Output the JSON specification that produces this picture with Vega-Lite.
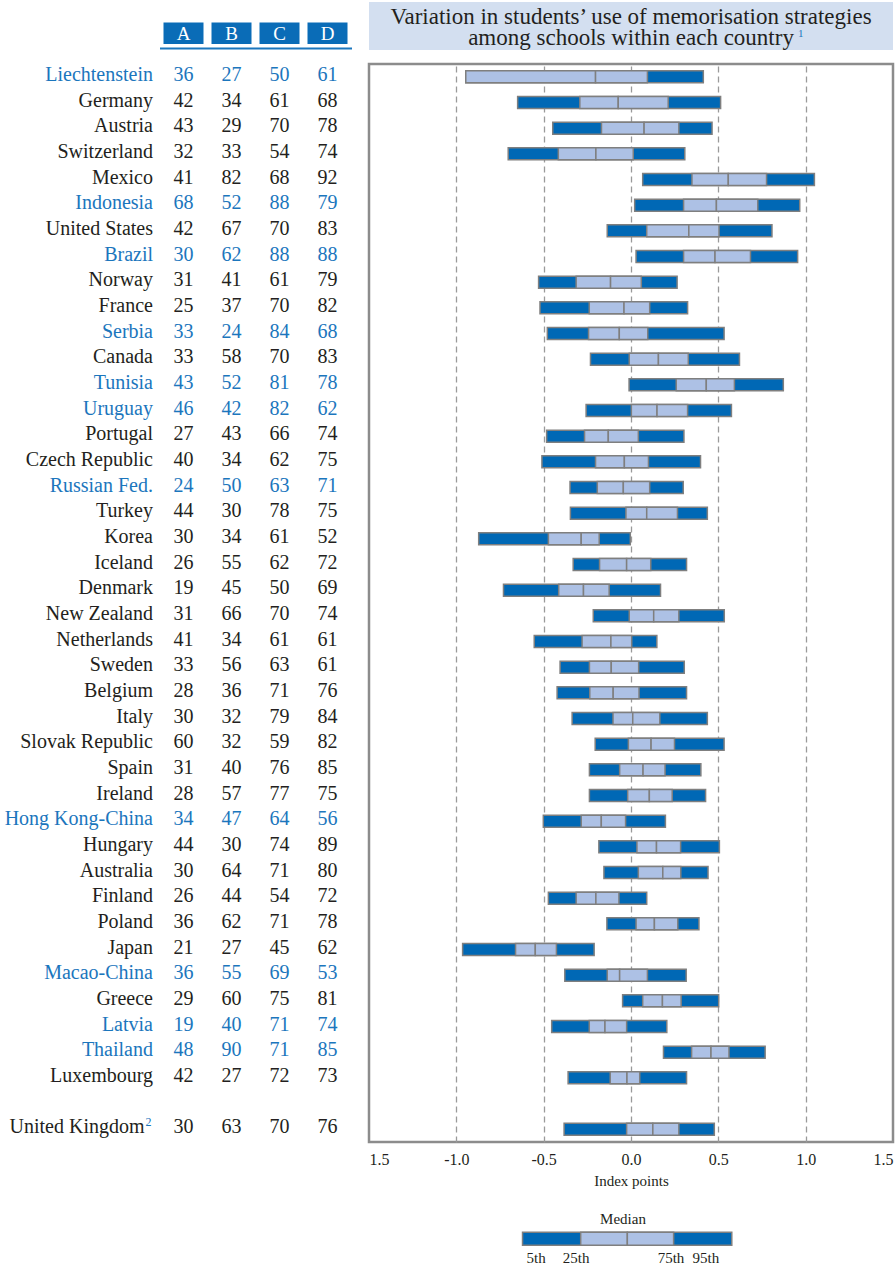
{
  "$schema": "https://vega.github.io/schema/vega-lite/v6.json",
  "padding": {"left": 0, "top": 2, "right": 0, "bottom": 0},
  "background": "white",
  "config": {
    "font": "Liberation Serif",
    "view": {"stroke": null},
    "text": {"font": "Liberation Serif"},
    "axis": {"labelFont": "Liberation Serif", "titleFont": "Liberation Serif"}
  },
  "datasets": {
    "rows": [
      {"country": "Liechtenstein", "partner": true, "A": 36, "B": 27, "C": 50, "D": 61, "p5": -0.946, "p25": -0.946, "p50": -0.203, "p75": 0.094, "p95": 0.414},
      {"country": "Germany", "partner": false, "A": 42, "B": 34, "C": 61, "D": 68, "p5": -0.649, "p25": -0.293, "p50": -0.073, "p75": 0.213, "p95": 0.513},
      {"country": "Austria", "partner": false, "A": 43, "B": 29, "C": 70, "D": 78, "p5": -0.448, "p25": -0.169, "p50": 0.075, "p75": 0.274, "p95": 0.464},
      {"country": "Switzerland", "partner": false, "A": 32, "B": 33, "C": 54, "D": 74, "p5": -0.703, "p25": -0.416, "p50": -0.201, "p75": 0.013, "p95": 0.308},
      {"country": "Mexico", "partner": false, "A": 41, "B": 82, "C": 68, "D": 92, "p5": 0.067, "p25": 0.349, "p50": 0.557, "p75": 0.776, "p95": 1.05},
      {"country": "Indonesia", "partner": true, "A": 68, "B": 52, "C": 88, "D": 79, "p5": 0.021, "p25": 0.301, "p50": 0.489, "p75": 0.726, "p95": 0.966},
      {"country": "United States", "partner": false, "A": 42, "B": 67, "C": 70, "D": 83, "p5": -0.136, "p25": 0.09, "p50": 0.331, "p75": 0.504, "p95": 0.807},
      {"country": "Brazil", "partner": true, "A": 30, "B": 62, "C": 88, "D": 88, "p5": 0.029, "p25": 0.301, "p50": 0.481, "p75": 0.684, "p95": 0.954},
      {"country": "Norway", "partner": false, "A": 31, "B": 41, "C": 61, "D": 79, "p5": -0.529, "p25": -0.314, "p50": -0.117, "p75": 0.059, "p95": 0.264},
      {"country": "France", "partner": false, "A": 25, "B": 37, "C": 70, "D": 82, "p5": -0.521, "p25": -0.239, "p50": -0.04, "p75": 0.107, "p95": 0.324},
      {"country": "Serbia", "partner": true, "A": 33, "B": 24, "C": 84, "D": 68, "p5": -0.479, "p25": -0.243, "p50": -0.067, "p75": 0.096, "p95": 0.533},
      {"country": "Canada", "partner": false, "A": 33, "B": 58, "C": 70, "D": 83, "p5": -0.232, "p25": -0.01, "p50": 0.157, "p75": 0.328, "p95": 0.621},
      {"country": "Tunisia", "partner": true, "A": 43, "B": 52, "C": 81, "D": 78, "p5": -0.011, "p25": 0.259, "p50": 0.431, "p75": 0.592, "p95": 0.872},
      {"country": "Uruguay", "partner": true, "A": 46, "B": 42, "C": 82, "D": 62, "p5": -0.257, "p25": 0.002, "p50": 0.149, "p75": 0.324, "p95": 0.575},
      {"country": "Portugal", "partner": false, "A": 27, "B": 43, "C": 66, "D": 74, "p5": -0.483, "p25": -0.266, "p50": -0.13, "p75": 0.042, "p95": 0.303},
      {"country": "Czech Republic", "partner": false, "A": 40, "B": 34, "C": 62, "D": 75, "p5": -0.51, "p25": -0.203, "p50": -0.038, "p75": 0.1, "p95": 0.398},
      {"country": "Russian Fed.", "partner": true, "A": 24, "B": 50, "C": 63, "D": 71, "p5": -0.349, "p25": -0.193, "p50": -0.044, "p75": 0.107, "p95": 0.299},
      {"country": "Turkey", "partner": false, "A": 44, "B": 30, "C": 78, "D": 75, "p5": -0.347, "p25": -0.029, "p50": 0.09, "p75": 0.266, "p95": 0.437},
      {"country": "Korea", "partner": false, "A": 30, "B": 34, "C": 61, "D": 52, "p5": -0.872, "p25": -0.473, "p50": -0.285, "p75": -0.182, "p95": -0.004},
      {"country": "Iceland", "partner": false, "A": 26, "B": 55, "C": 62, "D": 72, "p5": -0.331, "p25": -0.18, "p50": -0.025, "p75": 0.113, "p95": 0.318},
      {"country": "Denmark", "partner": false, "A": 19, "B": 45, "C": 50, "D": 69, "p5": -0.73, "p25": -0.414, "p50": -0.272, "p75": -0.125, "p95": 0.169},
      {"country": "New Zealand", "partner": false, "A": 31, "B": 66, "C": 70, "D": 74, "p5": -0.216, "p25": -0.01, "p50": 0.13, "p75": 0.274, "p95": 0.534},
      {"country": "Netherlands", "partner": false, "A": 41, "B": 34, "C": 61, "D": 61, "p5": -0.554, "p25": -0.28, "p50": -0.115, "p75": 0.004, "p95": 0.148},
      {"country": "Sweden", "partner": false, "A": 33, "B": 56, "C": 63, "D": 61, "p5": -0.406, "p25": -0.238, "p50": -0.113, "p75": 0.044, "p95": 0.305},
      {"country": "Belgium", "partner": false, "A": 28, "B": 36, "C": 71, "D": 76, "p5": -0.423, "p25": -0.236, "p50": -0.102, "p75": 0.046, "p95": 0.318},
      {"country": "Italy", "partner": false, "A": 30, "B": 32, "C": 79, "D": 84, "p5": -0.337, "p25": -0.103, "p50": 0.01, "p75": 0.165, "p95": 0.437},
      {"country": "Slovak Republic", "partner": false, "A": 60, "B": 32, "C": 59, "D": 82, "p5": -0.205, "p25": -0.015, "p50": 0.115, "p75": 0.249, "p95": 0.533},
      {"country": "Spain", "partner": false, "A": 31, "B": 40, "C": 76, "D": 85, "p5": -0.238, "p25": -0.065, "p50": 0.069, "p75": 0.195, "p95": 0.4},
      {"country": "Ireland", "partner": false, "A": 28, "B": 57, "C": 77, "D": 75, "p5": -0.238, "p25": -0.019, "p50": 0.105, "p75": 0.236, "p95": 0.427},
      {"country": "Hong Kong-China", "partner": true, "A": 34, "B": 47, "C": 64, "D": 56, "p5": -0.502, "p25": -0.285, "p50": -0.17, "p75": -0.031, "p95": 0.197},
      {"country": "Hungary", "partner": false, "A": 44, "B": 30, "C": 74, "D": 89, "p5": -0.184, "p25": 0.034, "p50": 0.146, "p75": 0.284, "p95": 0.506},
      {"country": "Australia", "partner": false, "A": 30, "B": 64, "C": 71, "D": 80, "p5": -0.155, "p25": 0.042, "p50": 0.182, "p75": 0.285, "p95": 0.441},
      {"country": "Finland", "partner": false, "A": 26, "B": 44, "C": 54, "D": 72, "p5": -0.473, "p25": -0.314, "p50": -0.201, "p75": -0.069, "p95": 0.09},
      {"country": "Poland", "partner": false, "A": 36, "B": 62, "C": 71, "D": 78, "p5": -0.138, "p25": 0.029, "p50": 0.134, "p75": 0.268, "p95": 0.389},
      {"country": "Japan", "partner": false, "A": 21, "B": 27, "C": 45, "D": 62, "p5": -0.964, "p25": -0.661, "p50": -0.548, "p75": -0.427, "p95": -0.211},
      {"country": "Macao-China", "partner": true, "A": 36, "B": 55, "C": 69, "D": 53, "p5": -0.379, "p25": -0.136, "p50": -0.065, "p75": 0.094, "p95": 0.316},
      {"country": "Greece", "partner": false, "A": 29, "B": 60, "C": 75, "D": 81, "p5": -0.048, "p25": 0.067, "p50": 0.18, "p75": 0.287, "p95": 0.502},
      {"country": "Latvia", "partner": true, "A": 19, "B": 40, "C": 71, "D": 74, "p5": -0.454, "p25": -0.239, "p50": -0.149, "p75": -0.025, "p95": 0.205},
      {"country": "Thailand", "partner": true, "A": 48, "B": 90, "C": 71, "D": 85, "p5": 0.186, "p25": 0.347, "p50": 0.458, "p75": 0.561, "p95": 0.768},
      {"country": "Luxembourg", "partner": false, "A": 42, "B": 27, "C": 72, "D": 73, "p5": -0.36, "p25": -0.119, "p50": -0.023, "p75": 0.05, "p95": 0.318},
      {"country": "United Kingdom", "partner": false, "A": 30, "B": 63, "C": 70, "D": 76, "p5": -0.383, "p25": -0.025, "p50": 0.125, "p75": 0.274, "p95": 0.477}
    ],
    "legend": [
      {"p5": -0.621, "p25": -0.288, "p50": -0.021, "p75": 0.244, "p95": 0.577}
    ],
    "legendLabels": [
      {"label": "Median", "pos": -0.046, "row": "median"},
      {"label": "5th", "pos": -0.543, "row": "pct"},
      {"label": "25th", "pos": -0.314, "row": "pct"},
      {"label": "75th", "pos": 0.229, "row": "pct"},
      {"label": "95th", "pos": 0.429, "row": "pct"}
    ]
  },
  "spacing": 10,
  "hconcat": [
    {
      "bounds": "flush",
      "spacing": 14,
      "vconcat": [
        {
          "width": 357,
          "height": 46,
          "data": {"values": [{"col": "A"}, {"col": "B"}, {"col": "C"}, {"col": "D"}]},
          "encoding": {
            "x": {"field": "col", "type": "nominal",
                  "scale": {"domain": ["A", "B", "C", "D"], "range": [159.5, 351.5], "paddingInner": 0, "paddingOuter": 0},
                  "axis": {"orient": "bottom", "labels": false, "ticks": false, "title": null, "grid": false, "domainColor": "#1b76bd", "domainWidth": 2}},
            "y": {"datum": "hdr", "type": "nominal",
                  "scale": {"domain": ["hdr"], "range": [20.5, 42], "paddingInner": 0, "paddingOuter": 0},
                  "axis": null}
          },
          "layer": [
            {"mark": {"type": "bar", "width": 40, "color": "#0a6cb7"}},
            {"mark": {"type": "text", "color": "white", "fontSize": 19, "baseline": "middle", "align": "center", "dy": 1},
             "encoding": {"text": {"field": "col"}}}
          ]
        },
        {
          "width": 357,
          "height": 1078,
          "data": {"name": "rows"},
          "encoding": {
            "y": {"field": "country", "type": "nominal",
                  "scale": {"domain": ["Liechtenstein", "Germany", "Austria", "Switzerland", "Mexico", "Indonesia", "United States", "Brazil", "Norway", "France", "Serbia", "Canada", "Tunisia", "Uruguay", "Portugal", "Czech Republic", "Russian Fed.", "Turkey", "Korea", "Iceland", "Denmark", "New Zealand", "Netherlands", "Sweden", "Belgium", "Italy", "Slovak Republic", "Spain", "Ireland", "Hong Kong-China", "Hungary", "Australia", "Finland", "Poland", "Japan", "Macao-China", "Greece", "Latvia", "Thailand", "Luxembourg", " ", "United Kingdom"], "paddingInner": 0, "paddingOuter": 0},
                  "axis": null}
          },
          "layer": [
            {
              "transform": [{"filter": "datum.country != 'United Kingdom'"}],
              "mark": {"type": "text", "fontSize": 20, "align": "right", "baseline": "middle", "dx": -30.5},
              "encoding": {
                "x": {"datum": "A", "type": "nominal", "scale": {"domain": ["A", "B", "C", "D"], "range": [159.5, 351.5], "paddingInner": 0, "paddingOuter": 0}, "axis": null},
                "text": {"field": "country"},
                "color": {"condition": {"test": "datum.partner", "value": "#1b76bd"}, "value": "#231f20"}
              }
            },
            {
              "transform": [{"filter": "datum.country == 'United Kingdom'"}],
              "mark": {"type": "text", "fontSize": 20, "align": "right", "baseline": "middle", "dx": -39, "color": "#231f20"},
              "encoding": {
                "x": {"datum": "A", "type": "nominal"},
                "text": {"field": "country"}
              }
            },
            {
              "transform": [{"filter": "datum.country == 'United Kingdom'"}],
              "mark": {"type": "text", "fontSize": 12, "align": "left", "baseline": "middle", "dx": -38, "dy": -5, "color": "#1b76bd"},
              "encoding": {
                "x": {"datum": "A", "type": "nominal"},
                "text": {"value": "2"}
              }
            },
            {
              "transform": [{"fold": ["A", "B", "C", "D"], "as": ["col", "val"]}],
              "mark": {"type": "text", "fontSize": 20, "align": "center", "baseline": "middle"},
              "encoding": {
                "x": {"field": "col", "type": "nominal"},
                "text": {"field": "val", "type": "quantitative"},
                "color": {"condition": {"test": "datum.partner", "value": "#1b76bd"}, "value": "#231f20"}
              }
            }
          ]
        }
      ]
    },
    {
      "spacing": 12,
      "vconcat": [
        {
          "width": 524,
          "height": 48,
          "view": {"fill": "#d3dff0", "stroke": null},
          "data": {"values": [{"line1": "Variation in students’ use of memorisation strategies", "line2": "among schools within each country", "note": "1"}]},
          "layer": [
            {"mark": {"type": "text", "fontSize": 23, "color": "#231f20", "align": "center", "baseline": "middle", "dy": -9},
             "encoding": {"text": {"field": "line1"}}},
            {"mark": {"type": "text", "fontSize": 23, "color": "#231f20", "align": "center", "baseline": "middle", "dy": 12},
             "encoding": {"text": {"field": "line2"}}},
            {"mark": {"type": "text", "fontSize": 11, "color": "#1b76bd", "align": "left", "baseline": "middle", "dx": 167, "dy": 8},
             "encoding": {"text": {"field": "note"}}}
          ]
        },
        {
          "width": 524,
          "height": 1078,
          "view": {"stroke": "#8c8c8c", "strokeWidth": 2.5},
          "data": {"name": "rows"},
          "encoding": {
            "y": {"field": "country", "type": "nominal",
                  "scale": {"domain": ["Liechtenstein", "Germany", "Austria", "Switzerland", "Mexico", "Indonesia", "United States", "Brazil", "Norway", "France", "Serbia", "Canada", "Tunisia", "Uruguay", "Portugal", "Czech Republic", "Russian Fed.", "Turkey", "Korea", "Iceland", "Denmark", "New Zealand", "Netherlands", "Sweden", "Belgium", "Italy", "Slovak Republic", "Spain", "Ireland", "Hong Kong-China", "Hungary", "Australia", "Finland", "Poland", "Japan", "Macao-China", "Greece", "Latvia", "Thailand", "Luxembourg", " ", "United Kingdom"], "paddingInner": 0, "paddingOuter": 0},
                  "axis": null}
          },
          "layer": [
            {
              "mark": {"type": "bar", "height": 12, "color": "#0068b5", "stroke": "#7f7f7f", "strokeWidth": 1.5},
              "encoding": {
                "x": {"field": "p5", "type": "quantitative",
                      "scale": {"domain": [-1.5, 1.5], "nice": false, "zero": false},
                      "axis": {
                        "values": [-1.5, -1, -0.5, 0, 0.5, 1, 1.5],
                        "labelExpr": "datum.value == -1.5 ? '1.5' : (datum.value < 0 ? '-' + format(-datum.value, '.1f') : format(datum.value, '.1f'))",
                        "ticks": false,
                        "domain": false,
                        "grid": true,
                        "gridDash": [6, 4],
                        "gridColor": "#9a9a9a",
                        "gridWidth": 1.3,
                        "gridOpacity": {"condition": {"test": "abs(datum.value) > 1.4", "value": 0}, "value": 1},
                        "labelFontSize": 16,
                        "labelColor": "#231f20",
                        "labelPadding": 9,
                        "labelFlush": true,
                        "labelOverlap": false,
                        "title": "Index points",
                        "titleFontSize": 15,
                        "titleFontWeight": "normal",
                        "titleColor": "#231f20",
                        "titlePadding": 6
                      }},
                "x2": {"field": "p95"}
              }
            },
            {
              "mark": {"type": "bar", "height": 12, "color": "#adc1e5", "stroke": "#7f7f7f", "strokeWidth": 1.5},
              "encoding": {
                "x": {"field": "p25", "type": "quantitative", "title": "Index points"},
                "x2": {"field": "p50"}
              }
            },
            {
              "mark": {"type": "bar", "height": 12, "color": "#adc1e5", "stroke": "#7f7f7f", "strokeWidth": 1.5},
              "encoding": {
                "x": {"field": "p50", "type": "quantitative", "title": "Index points"},
                "x2": {"field": "p75"}
              }
            }
          ]
        },
        {
          "width": 524,
          "height": 66,
          "layer": [
            {
              "data": {"name": "legend"},
              "mark": {"type": "bar", "height": 13, "color": "#0068b5", "stroke": "#7f7f7f", "strokeWidth": 1.5},
              "encoding": {
                "x": {"field": "p5", "type": "quantitative", "scale": {"domain": [-1.5, 1.5], "nice": false, "zero": false}, "axis": null},
                "x2": {"field": "p95"},
                "y": {"datum": "bar", "type": "nominal", "scale": {"domain": ["median", "bar", "pct"], "paddingInner": 0, "paddingOuter": 0.192, "align": 1}, "axis": null}
              }
            },
            {
              "data": {"name": "legend"},
              "mark": {"type": "bar", "height": 13, "color": "#adc1e5", "stroke": "#7f7f7f", "strokeWidth": 1.5},
              "encoding": {
                "x": {"field": "p25", "type": "quantitative"},
                "x2": {"field": "p50"},
                "y": {"datum": "bar", "type": "nominal"}
              }
            },
            {
              "data": {"name": "legend"},
              "mark": {"type": "bar", "height": 13, "color": "#adc1e5", "stroke": "#7f7f7f", "strokeWidth": 1.5},
              "encoding": {
                "x": {"field": "p50", "type": "quantitative"},
                "x2": {"field": "p75"},
                "y": {"datum": "bar", "type": "nominal"}
              }
            },
            {
              "data": {"name": "legendLabels"},
              "mark": {"type": "text", "fontSize": 15, "color": "#231f20", "align": "center", "baseline": "middle"},
              "encoding": {
                "x": {"field": "pos", "type": "quantitative"},
                "y": {"field": "row", "type": "nominal"},
                "text": {"field": "label"}
              }
            }
          ]
        }
      ]
    }
  ]
}
